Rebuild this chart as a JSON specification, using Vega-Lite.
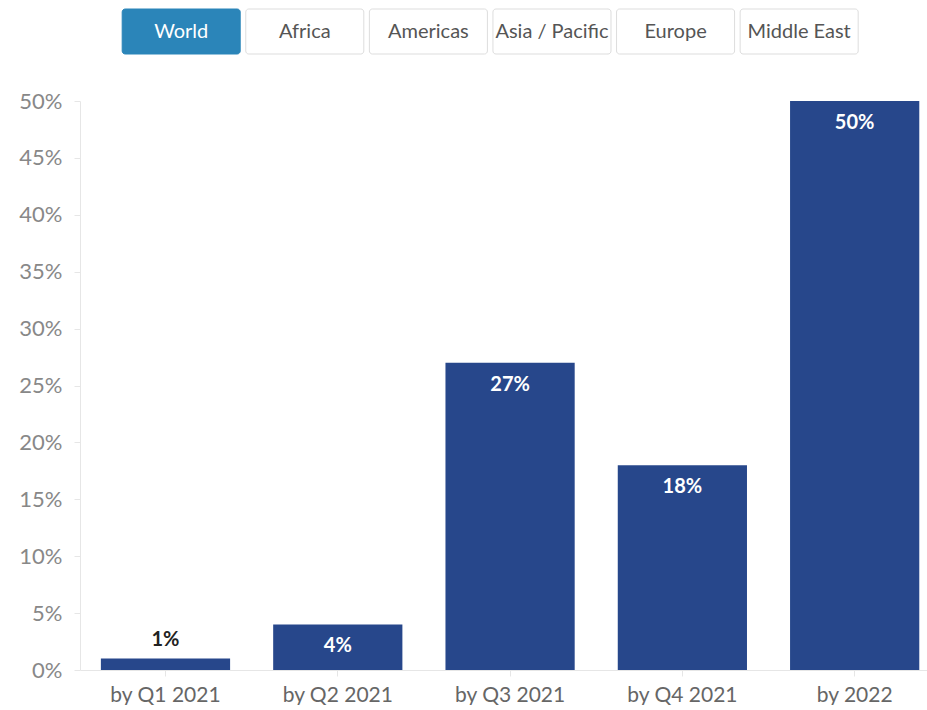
{
  "$schema": "https://vega.github.io/schema/vega-lite/v6.json",
  "background": "white",
  "padding": {"left": 18, "top": 8, "right": 0, "bottom": 0},
  "spacing": 35,
  "config": {"view": {"stroke": null}, "font": "Lato"},
  "datasets": {
    "buttons": [
      {"label": "World", "selected": true},
      {"label": "Africa", "selected": false},
      {"label": "Americas", "selected": false},
      {"label": "Asia / Pacific", "selected": false},
      {"label": "Europe", "selected": false},
      {"label": "Middle East", "selected": false}
    ],
    "bars": [
      {"period": "by Q1 2021", "share": 0.01},
      {"period": "by Q2 2021", "share": 0.04},
      {"period": "by Q3 2021", "share": 0.27},
      {"period": "by Q4 2021", "share": 0.18},
      {"period": "by 2022", "share": 0.50}
    ]
  },
  "vconcat": [
    {
      "width": 847,
      "height": 45,
      "data": {"name": "buttons"},
      "encoding": {
        "x": {"field": "label", "type": "nominal", "sort": null, "axis": null,
              "scale": {"paddingInner": 0.045, "paddingOuter": 0.449, "align": 0.38}},
        "y": {"datum": "row", "type": "nominal", "axis": null, "scale": {"padding": 0}}
      },
      "layer": [
        {
          "mark": {"type": "rect", "cornerRadius": 3, "strokeWidth": 1},
          "encoding": {
            "fill": {"condition": {"test": "datum.selected", "value": "#2b85b9"}, "value": "#ffffff"},
            "stroke": {"condition": {"test": "datum.selected", "value": "#2b85b9"}, "value": "#dddddd"}
          }
        },
        {
          "mark": {"type": "text", "fontSize": 20, "baseline": "middle", "align": "center"},
          "encoding": {
            "text": {"field": "label"},
            "color": {"condition": {"test": "datum.selected", "value": "#ffffff"}, "value": "#555555"}
          }
        }
      ]
    },
    {
      "width": 847,
      "height": 569,
      "data": {"name": "bars"},
      "encoding": {
        "x": {"field": "period", "type": "nominal", "sort": null,
              "scale": {"paddingInner": 0.25, "paddingOuter": 0.083, "align": 0.73},
              "axis": {"title": null, "labelAngle": 0, "labelFontSize": 21, "labelColor": "#666666",
                       "domainColor": "#e6e6e6", "tickColor": "#e6e6e6", "tickSize": 6, "labelPadding": 8}},
        "y": {"field": "share", "type": "quantitative",
              "scale": {"domain": [0, 0.5], "nice": false},
              "axis": {"title": null, "values": [0,0.05,0.1,0.15,0.2,0.25,0.3,0.35,0.4,0.45,0.5], "format": ".0%",
                       "grid": false, "labelFontSize": 22, "labelColor": "#888888", "domain": true,
                       "domainColor": "#e6e6e6", "tickColor": "#e6e6e6", "tickSize": 6, "labelPadding": 12}}
      },
      "layer": [
        {"mark": {"type": "bar", "color": "#27478b"}},
        {
          "transform": [{"filter": "datum.share >= 0.03"}],
          "mark": {"type": "text", "color": "#ffffff", "fontWeight": "bold", "fontSize": 20, "baseline": "middle", "dy": 22},
          "encoding": {"text": {"field": "share", "type": "quantitative", "format": ".0%"}}
        },
        {
          "transform": [{"filter": "datum.share < 0.03"}],
          "mark": {"type": "text", "color": "#222222", "fontWeight": "bold", "fontSize": 20, "baseline": "middle", "dy": -19},
          "encoding": {"text": {"field": "share", "type": "quantitative", "format": ".0%"}}
        }
      ]
    }
  ]
}
